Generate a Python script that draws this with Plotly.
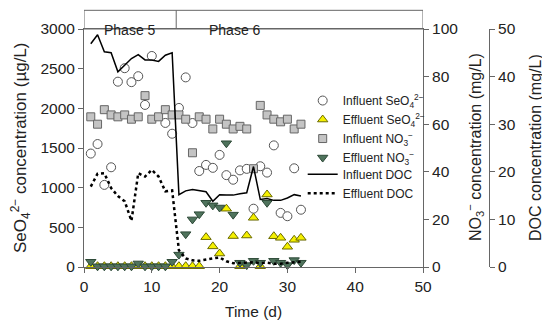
import plotly.graph_objects as go

days = list(range(1, 33))

influent_seo4 = [1430, 1550, 1035, 1257, 2336, 2506, 2330, 2405, 2043, 2660, None, 1816,
                 1680, 2005, 2390, 1815, 1210, 1287, 1250, 1413, 1158, 1100, 1218, 1237,
                 735, 1270, 1190, 1533, 682, 640, 1244, 722]
effluent_seo4 = [10, 10, 10, 10, 10, 10, 10, 10, 10, 10, 10, 10, 10, 10, 10, 10, 10,
                 376, 260, 170, 735, 390, 10, 397, 620, 10, 914, 388, 368, 255, 343, 368]
influent_no3 = [63.1, 60.0, 66.1, 63.9, 63.1, 63.9, 62.1, 63.1, 72.0, 62.1, 63.1, 66.1,
                63.9, 63.9, 62.1, 48.0, 63.1, 62.1, 58.0, 62.1, 60.0, 58.0, 59.1, 58.0,
                41.3, 67.9, 63.9, 62.1, 61.0, 62.1, 58.0, 60.0]
effluent_no3 = [2.2, 0.3, 0.3, 0.3, 0.3, 0.3, 0.3, 1.5, 0.3, 0.3, 0.3, 0.3, 2.2, 5.2,
                13.8, 20.0, 22.2, 27.0, 25.9, 25.0, 52.0, 22.0, 1.8, 0.8, 2.6, 1.8, 27.0,
                2.6, 1.8, 0.8, 2.9, 1.8]
influent_doc = [46.9, 48.8, 45.2, 45.0, 41.0, 42.4, 43.8, 44.6, 43.5, 43.5, 43.2, 44.5,
                45.0, 15.2, 16.0, 16.3, 16.0, 15.8, 13.8, 15.2, 15.1, 15.1, 15.4, 15.6,
                21.1, 14.2, 14.4, 14.0, 14.0, 14.5, 15.2, 14.9]
effluent_doc = [16.9, 19.6, 19.7, 16.6, 14.9, 13.8, 9.7, 19.7, 19.0, 20.4, 19.0, 15.9,
                16.1, 3.5, 1.8, 1.4, 1.3, 1.6, 1.8, 2.0, 1.2, 0.8, 0.9, 0.9, 1.0, 0.8,
                0.9, 0.7, 0.7, 0.9, 1.0, 1.1]

phase_labels = ["Phase 5", "Phase 6"]
phase_boundary = 13.6
x_ticks = [0, 10, 20, 30, 40, 50]

FONT = "Liberation Sans, Arial, sans-serif"
AX = "#666666"
TXT = "#222222"
TICK = 15.5

fig = go.Figure()

fig.add_trace(go.Scatter(
    x=days, y=influent_seo4, mode="markers", name="Influent SeO<sub>4</sub><sup>2−</sup>",
    marker=dict(symbol="circle", size=9, color="white", line=dict(color="#555555", width=1)),
    cliponaxis=False, yaxis="y", legend="legend"))
fig.add_trace(go.Scatter(
    x=days, y=effluent_seo4, mode="markers", name="Effluent SeO<sub>4</sub><sup>2−</sup>",
    marker=dict(symbol="triangle-up", size=9, color="#f5f000", line=dict(color="#6b6b00", width=1)),
    cliponaxis=False, yaxis="y", legend="legend"))
fig.add_trace(go.Scatter(
    x=days, y=influent_no3, mode="markers", name="Influent NO<sub>3</sub><sup>−</sup>",
    marker=dict(symbol="square", size=8, color="#c4c4c4", line=dict(color="#666666", width=1)),
    cliponaxis=False, yaxis="y2", legend="legend"))
fig.add_trace(go.Scatter(
    x=days, y=effluent_no3, mode="markers", name="Effluent NO<sub>3</sub><sup>−</sup>",
    marker=dict(symbol="triangle-down", size=9, color="#4f735c", line=dict(color="#2e4a38", width=1)),
    cliponaxis=False, yaxis="y2", legend="legend"))
fig.add_trace(go.Scatter(
    x=days, y=influent_doc, mode="lines", name="Influent DOC",
    line=dict(color="black", width=1.5), cliponaxis=False, yaxis="y3", legend="legend2"))
fig.add_trace(go.Scatter(
    x=days, y=effluent_doc, mode="lines", name="Effluent DOC",
    line=dict(color="black", width=2.5, dash="dot"), cliponaxis=False, yaxis="y3",
    legend="legend2"))

# page body adds an 8px offset; figure is sized to fit the window
W, H = 542, 316
L, R, T, B = 76, 61, 17, 57
pw = W - L - R          # 405
ph = H - T - B          # 242
dom = 339 / pw
box_top = 1 + 19 / ph


def px_x(p):
    return (p - 8 - L) / pw


def px_y(p):
    return (H - B - (p - 8)) / ph


leg_common = dict(xanchor="left", yanchor="top", bgcolor="rgba(0,0,0,0)",
                  font=dict(size=12, color=TXT), tracegroupgap=0, itemwidth=30)

fig.update_layout(
    width=W, height=H,
    margin=dict(l=L, r=R, t=T, b=B),
    paper_bgcolor="white", plot_bgcolor="white",
    font=dict(family=FONT, size=14, color=TXT),
    showlegend=True,
    legend=dict(x=0.54, y=px_y(83), **leg_common),
    legend2=dict(x=0.54, y=px_y(158), **leg_common),
    xaxis=dict(domain=[0, dom], range=[0, 50], tickvals=x_ticks, ticks="outside", ticklen=5,
               showline=True, linecolor=AX, linewidth=1, mirror=True, showgrid=False,
               zeroline=False, tickcolor=AX, tickfont=dict(size=TICK)),
    yaxis=dict(range=[0, 3000], dtick=500, ticks="outside", ticklen=5, showline=True,
               linecolor=AX, tickcolor=AX, showgrid=False, zeroline=False,
               tickfont=dict(size=TICK)),
    yaxis2=dict(range=[0, 100], dtick=20, overlaying="y", side="right", anchor="x",
                ticks="outside", ticklen=5, showline=True, linecolor=AX, tickcolor=AX,
                showgrid=False, zeroline=False, tickfont=dict(size=TICK)),
    yaxis3=dict(range=[0, 50], dtick=10, overlaying="y", side="right", anchor="free",
                position=1, ticks="outside", ticklen=5, showline=True, linecolor=AX,
                tickcolor=AX, showgrid=False, zeroline=False, tickfont=dict(size=TICK)),
)

fig.add_shape(type="rect", xref="x", yref="paper", x0=0, x1=50, y0=1, y1=box_top,
              line=dict(color=AX, width=1))
fig.add_shape(type="line", xref="x", yref="paper", x0=phase_boundary, x1=phase_boundary,
              y0=1, y1=box_top, line=dict(color=AX, width=1))
fig.add_annotation(x=6.8, y=(1 + box_top) / 2, xref="x", yref="paper", text=phase_labels[0],
                   showarrow=False, font=dict(size=14))
fig.add_annotation(x=22.3, y=(1 + box_top) / 2, xref="x", yref="paper", text=phase_labels[1],
                   showarrow=False, font=dict(size=14))

fig.add_annotation(x=px_x(20), y=px_y(146), xref="paper", yref="paper", textangle=-90,
                   xanchor="center", yanchor="middle",
                   text="SeO<sub>4</sub><sup>2−</sup> concentration (µg/L)", showarrow=False,
                   font=dict(size=17))
fig.add_annotation(x=px_x(475), y=px_y(145), xref="paper", yref="paper", textangle=-90,
                   xanchor="center", yanchor="middle",
                   text="NO<sub>3</sub><sup>−</sup> concentration (mg/L)", showarrow=False,
                   font=dict(size=16))
fig.add_annotation(x=px_x(535), y=px_y(146), xref="paper", yref="paper", textangle=-90,
                   xanchor="center", yanchor="middle",
                   text="DOC concentration (mg/L)", showarrow=False, font=dict(size=16))
fig.add_annotation(x=25, y=px_y(312), xref="x", yref="paper", text="Time (d)",
                   xanchor="center", yanchor="middle", showarrow=False, font=dict(size=15.5))

fig.write_html("out.html")
